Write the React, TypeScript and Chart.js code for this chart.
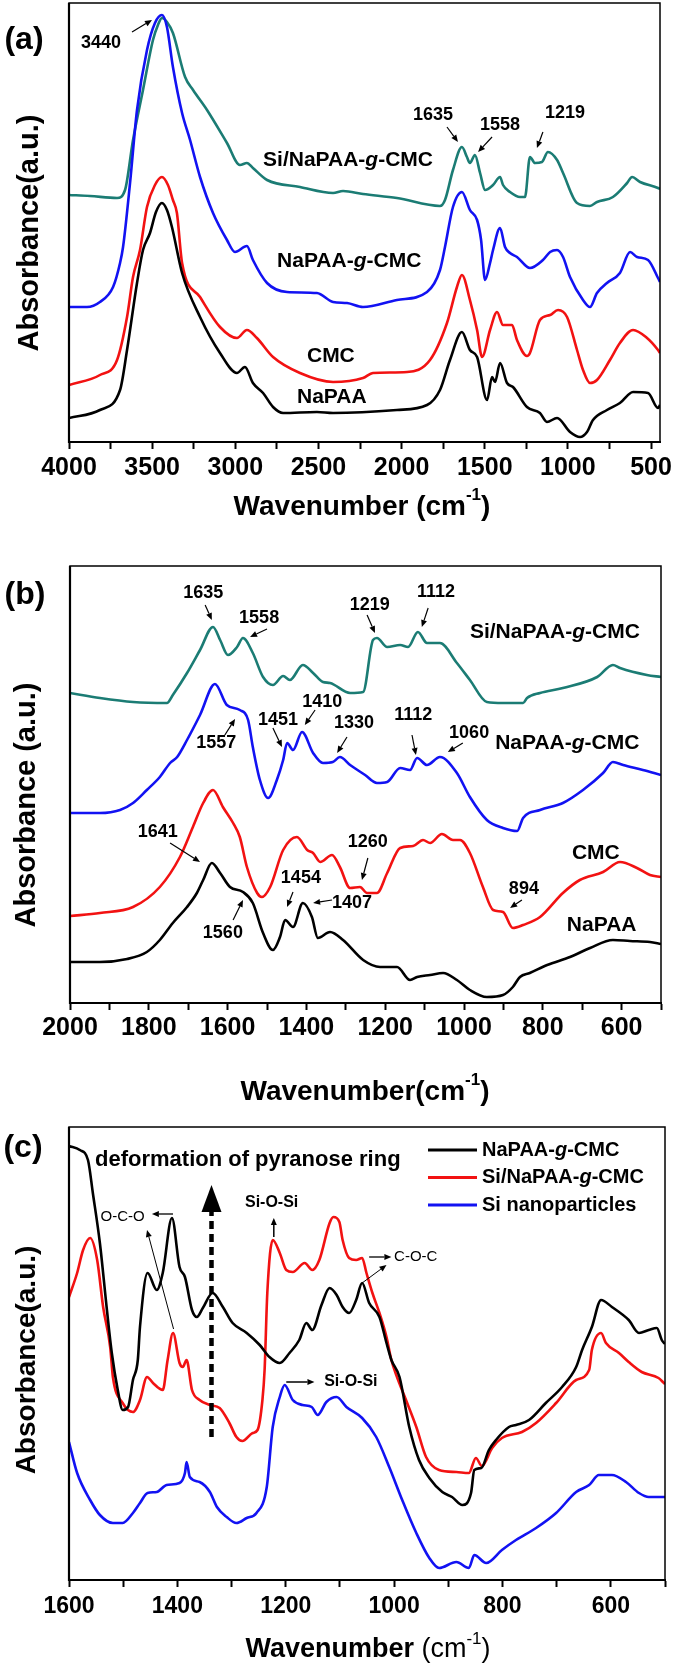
import React, { useEffect, useRef } from "react";
import { Chart, registerables } from "chart.js";

Chart.register(...registerables);

type Pt = [number, number];

// ---------------- DATA: [wavenumber (cm-1), absorbance (a.u., offset)] ----------------
// Panel (a)
const A_NAPAA: Pt[] = [[4000,24],[3814,32],[3693,52],[3651,92],[3591,159],[3555,192],[3513,209],[3477,230],[3441,239],[3411,232],[3381,215],[3320,169],[3212,125],[3092,89],[2990,69],[2942,75],[2894,59],[2833,49],[2773,35],[2713,29],[2509,30],[2412,29],[2028,32],[1847,37],[1769,52],[1709,82],[1637,110],[1589,92],[1546,85],[1486,42],[1456,65],[1438,60],[1408,79],[1366,59],[1330,55],[1246,35],[1168,29],[1126,20],[1065,24],[987,10],[927,5],[885,10],[849,22],[765,32],[687,39],[608,50],[518,49],[458,34],[446,37]];
const A_CMC: Pt[] = [[4000,57],[3814,67],[3711,82],[3651,125],[3615,165],[3573,192],[3531,235],[3483,257],[3441,265],[3405,257],[3375,242],[3351,229],[3320,179],[3212,145],[3092,115],[2990,104],[2930,112],[2870,104],[2773,85],[2611,69],[2412,60],[2232,64],[2172,69],[1967,70],[1829,82],[1727,119],[1667,155],[1637,167],[1589,142],[1546,112],[1516,85],[1468,112],[1426,130],[1390,117],[1336,117],[1306,102],[1246,86],[1228,89],[1168,122],[1107,127],[1059,132],[1005,125],[945,92],[909,72],[867,59],[825,62],[747,82],[687,99],[608,112],[524,104],[458,92],[446,89]];
const A_NAPAA_G_CMC: Pt[] = [[4000,135],[3892,135],[3814,140],[3735,155],[3693,179],[3675,195],[3633,259],[3591,332],[3531,392],[3483,419],[3441,427],[3411,415],[3375,375],[3320,329],[3272,302],[3212,265],[3134,229],[3050,202],[3002,190],[2930,196],[2894,182],[2809,159],[2689,150],[2509,149],[2412,140],[2328,139],[2232,135],[2028,142],[1847,150],[1769,172],[1739,195],[1691,235],[1637,250],[1589,232],[1546,222],[1522,202],[1498,162],[1468,179],[1450,192],[1408,214],[1378,195],[1348,189],[1306,185],[1228,174],[1150,182],[1107,190],[1065,192],[1029,185],[987,165],[909,142],[867,135],[825,149],[765,159],[687,169],[626,190],[584,185],[518,182],[458,164],[446,160]];
const A_SI_NAPAA_G_CMC: Pt[] = [[4000,247],[3874,246],[3711,244],[3663,252],[3615,302],[3555,352],[3495,402],[3465,417],[3441,424],[3411,420],[3375,409],[3302,365],[3254,352],[3170,332],[3050,299],[2972,277],[2930,279],[2894,274],[2809,262],[2611,255],[2412,249],[2352,251],[2232,248],[2028,244],[1769,236],[1739,242],[1691,272],[1637,295],[1607,285],[1589,279],[1559,287],[1528,269],[1498,252],[1450,257],[1408,265],[1390,257],[1348,250],[1288,245],[1258,245],[1228,285],[1198,279],[1156,280],[1120,290],[1065,282],[1029,269],[945,239],[867,236],[825,240],[729,245],[644,259],[614,265],[566,260],[458,254],[446,253]];
const A_TICKS = [500, 750, 1000, 1250, 1500, 1750, 2000, 2250, 2500, 2750, 3000, 3250, 3500, 3750, 4000];
const A_TICK_LABELS = [500, 1000, 1500, 2000, 2500, 3000, 3500, 4000];

// Panel (b)
const B_NAPAA: Pt[] = [[2000,41],[1924,41],[1855,44],[1805,51],[1772,63],[1739,80],[1703,96],[1678,110],[1662,123],[1640,140],[1619,130],[1594,116],[1561,111],[1536,100],[1510,70],[1485,53],[1467,66],[1454,83],[1434,76],[1409,100],[1386,86],[1371,65],[1340,71],[1307,63],[1256,43],[1213,36],[1170,36],[1137,23],[1119,26],[1086,28],[1053,30],[1018,23],[985,13],[942,6],[901,8],[876,16],[858,26],[833,30],[789,38],[731,46],[680,55],[622,63],[579,62],[528,61],[500,59]];
const B_CMC: Pt[] = [[2000,87],[1924,90],[1840,96],[1772,116],[1721,146],[1688,176],[1662,200],[1637,213],[1612,196],[1586,180],[1569,166],[1551,136],[1525,110],[1513,106],[1492,116],[1459,153],[1424,166],[1398,153],[1383,150],[1365,141],[1335,148],[1315,136],[1289,115],[1264,116],[1246,110],[1221,110],[1195,130],[1162,155],[1129,157],[1104,163],[1086,160],[1056,169],[1028,163],[1010,163],[985,150],[952,116],[926,93],[901,91],[876,75],[850,78],[807,86],[749,110],[706,123],[647,131],[604,141],[561,135],[528,128],[500,126]];
const B_NAPAA_G_CMC: Pt[] = [[2000,190],[1924,190],[1873,193],[1840,200],[1805,213],[1772,226],[1746,240],[1728,246],[1703,263],[1670,288],[1632,319],[1602,298],[1569,293],[1548,283],[1536,256],[1518,223],[1497,205],[1475,223],[1459,243],[1449,260],[1434,253],[1411,271],[1383,250],[1358,240],[1333,241],[1315,246],[1289,238],[1251,228],[1221,220],[1195,221],[1162,235],[1137,233],[1119,245],[1094,238],[1061,246],[1018,230],[985,206],[942,183],[901,175],[865,172],[850,185],[807,193],[749,200],[698,213],[647,230],[622,241],[596,238],[546,233],[500,228]];
const B_SI_NAPAA_G_CMC: Pt[] = [[2000,310],[1924,305],[1840,301],[1754,300],[1739,308],[1703,330],[1670,353],[1637,376],[1619,363],[1599,348],[1576,356],[1561,365],[1536,350],[1510,326],[1485,318],[1459,327],[1442,323],[1409,338],[1383,330],[1358,321],[1340,320],[1289,310],[1256,311],[1231,363],[1221,365],[1195,356],[1162,358],[1142,356],[1117,371],[1094,360],[1061,360],[1018,340],[985,323],[942,301],[901,300],[850,300],[840,305],[807,310],[749,315],[662,326],[622,338],[604,335],[536,328],[500,326]];
const B_TICKS = [500, 600, 700, 800, 900, 1000, 1100, 1200, 1300, 1400, 1500, 1600, 1700, 1800, 1900, 2000];
const B_TICK_LABELS = [600, 800, 1000, 1200, 1400, 1600, 1800, 2000];

// Panel (c)
const C_NAPAA_G_CMC: Pt[] = [[1600,434],[1580,430],[1565,420],[1556,387],[1543,337],[1530,270],[1521,227],[1510,190],[1501,170],[1491,173],[1482,200],[1473,220],[1469,253],[1455,307],[1438,290],[1427,307],[1410,362],[1396,313],[1386,303],[1373,270],[1364,263],[1353,272],[1335,287],[1316,273],[1298,257],[1272,247],[1248,235],[1230,223],[1211,217],[1193,227],[1175,240],[1162,257],[1151,250],[1134,275],[1119,292],[1106,285],[1095,273],[1083,267],[1070,280],[1059,297],[1046,277],[1027,263],[1014,237],[1005,220],[990,203],[972,153],[954,120],[935,102],[911,88],[893,83],[874,75],[858,87],[852,110],[839,112],[825,130],[812,140],[788,153],[775,155],[751,160],[720,177],[690,193],[664,213],[653,230],[635,253],[618,280],[598,273],[567,260],[548,247],[530,250],[515,252],[506,240],[500,236]];
const C_SI_NAPAA_G_CMC: Pt[] = [[1600,283],[1585,307],[1574,330],[1561,342],[1548,320],[1537,273],[1524,233],[1519,203],[1501,177],[1482,168],[1469,180],[1456,203],[1445,197],[1427,190],[1418,220],[1408,247],[1396,217],[1390,213],[1383,220],[1373,190],[1359,180],[1340,175],[1322,172],[1304,157],[1291,143],[1280,139],[1261,147],[1252,150],[1243,180],[1239,210],[1234,287],[1224,340],[1211,327],[1199,310],[1187,308],[1165,317],[1151,310],[1138,320],[1119,357],[1112,363],[1101,358],[1095,340],[1083,322],[1070,320],[1059,322],[1051,307],[1040,287],[1027,267],[1014,243],[1005,220],[996,205],[978,180],[959,153],[941,123],[917,110],[885,108],[862,107],[849,122],[838,114],[819,132],[801,142],[764,148],[738,157],[701,177],[664,200],[640,210],[635,230],[618,247],[609,237],[585,227],[567,218],[543,208],[512,202],[502,197],[500,196]];
const C_SI_NP: Pt[] = [[1600,138],[1585,107],[1561,80],[1543,65],[1519,57],[1501,57],[1482,67],[1469,77],[1455,87],[1438,88],[1420,95],[1396,97],[1386,107],[1383,118],[1377,103],[1359,98],[1340,88],[1327,73],[1309,63],[1291,57],[1272,62],[1254,67],[1235,93],[1224,153],[1211,183],[1202,195],[1187,180],[1169,175],[1152,173],[1141,165],[1125,178],[1106,183],[1088,173],[1059,162],[1033,143],[1009,113],[985,80],[959,47],[935,22],[917,12],[885,18],[862,12],[852,25],[830,17],[801,30],[775,40],[738,52],[701,67],[664,88],[640,95],[622,105],[598,105],[572,98],[548,87],[530,83],[502,83],[500,83]];
const C_TICKS = [500, 600, 700, 800, 900, 1000, 1100, 1200, 1300, 1400, 1500, 1600];
const C_TICK_LABELS = [600, 800, 1000, 1200, 1400, 1600];

// ---------------- STYLE / LAYOUT ----------------
const W = 675;
const FONT = '"Liberation Sans", Arial, Helvetica, sans-serif';
const BLACK = "#000000";
const RED = "#f21212";
const BLUE = "#1212f2";
const TEAL = "#1b7c74";

type Note = { text?: string; at?: Pt; align?: "left" | "center"; size?: number; weight?: string; from?: Pt; to?: Pt; lw?: number; dash?: number[]; head?: number; hw?: number };

const NUM = 18;
const SER = 21;

const A_NOTES: Note[] = [
  { text: "3440", at: [3808, 399], size: NUM },
  { from: [3621, 410], to: [3501, 422] },
  { text: "1635", at: [1811, 327], size: NUM },
  { from: [1727, 315], to: [1661, 300] },
  { text: "1558", at: [1408, 317], size: NUM },
  { from: [1456, 305], to: [1540, 290] },
  { text: "1219", at: [1017, 329], size: NUM },
  { from: [1150, 310], to: [1186, 294] },
  { text: "Si/NaPAA-*g*-CMC", at: [2833, 282], align: "left", size: SER },
  { text: "NaPAA-*g*-CMC", at: [2749, 181], align: "left", size: SER },
  { text: "CMC", at: [2569, 86], align: "left", size: SER },
  { text: "NaPAA", at: [2629, 45], align: "left", size: SER },
];

const B_NOTES: Note[] = [
  { text: "1635", at: [1662, 410], size: NUM },
  { from: [1657, 398], to: [1640, 383] },
  { text: "1558", at: [1520, 385], size: NUM },
  { from: [1500, 374], to: [1543, 366] },
  { text: "1219", at: [1239, 398], size: NUM },
  { from: [1246, 388], to: [1226, 370] },
  { text: "1112", at: [1071, 411], size: NUM },
  { from: [1091, 395], to: [1107, 376] },
  { text: "Si/NaPAA-*g*-CMC", at: [985, 371], align: "left", size: SER },
  { text: "1557", at: [1629, 260], size: NUM },
  { from: [1607, 268], to: [1581, 284] },
  { text: "1451", at: [1472, 283], size: NUM },
  { from: [1485, 275], to: [1462, 256] },
  { text: "1410", at: [1360, 301], size: NUM },
  { from: [1378, 293], to: [1404, 278] },
  { text: "1330", at: [1279, 280], size: NUM },
  { from: [1297, 266], to: [1322, 250] },
  { text: "1112", at: [1129, 288], size: NUM },
  { from: [1132, 268], to: [1122, 248] },
  { text: "1060", at: [987, 270], size: NUM },
  { from: [1003, 260], to: [1041, 251] },
  { text: "NaPAA-*g*-CMC", at: [921, 260], align: "left", size: SER },
  { text: "1641", at: [1777, 171], size: NUM },
  { from: [1746, 160], to: [1670, 141] },
  { text: "1560", at: [1612, 70], size: NUM },
  { from: [1586, 83], to: [1561, 103] },
  { text: "1454", at: [1414, 125], size: NUM },
  { from: [1434, 111], to: [1449, 96] },
  { text: "1407", at: [1284, 100], size: NUM },
  { from: [1335, 103], to: [1383, 100] },
  { text: "1260", at: [1244, 161], size: NUM },
  { from: [1244, 145], to: [1259, 123] },
  { text: "894", at: [848, 114], size: NUM },
  { from: [853, 103], to: [883, 95] },
  { text: "CMC", at: [726, 150], align: "left", size: SER },
  { text: "NaPAA", at: [739, 78], align: "left", size: SER },
];

const C_NOTES: Note[] = [
  { text: "deformation of pyranose ring", at: [1552, 420], align: "left", size: 22 },
  { from: [1337, 143], to: [1337, 395], lw: 4.5, dash: [8, 5], head: 27, hw: 10 },
  { text: "O-C-O", at: [1501, 363], size: 15, weight: "normal" },
  { from: [1408, 366], to: [1447, 366], lw: 1.3 },
  { from: [1407, 251], to: [1456, 350], lw: 1 },
  { text: "Si-O-Si", at: [1226, 377], size: 16 },
  { from: [1222, 343], to: [1222, 362], lw: 1.5 },
  { text: "C-O-C", at: [1000, 323], align: "left", size: 15, weight: "normal" },
  { from: [1046, 323], to: [1005, 323], lw: 1.3 },
  { from: [1059, 297], to: [1014, 315], lw: 1 },
  { text: "Si-O-Si", at: [1129, 198], align: "left", size: 16 },
  { from: [1199, 198], to: [1147, 198], lw: 1.5 },
];

const PANELS = [
  {
    key: "a", top: 0, height: 535, area: { l: 69, t: 3, r: 660, b: 442 },
    xMin: 446, xMax: 4000, ticks: A_TICKS, tickLabels: A_TICK_LABELS, tickSize: 25, tickPad: 4,
    series: [
      { label: "NaPAA", data: A_NAPAA, color: BLACK },
      { label: "CMC", data: A_CMC, color: RED },
      { label: "NaPAA-g-CMC", data: A_NAPAA_G_CMC, color: BLUE },
      { label: "Si/NaPAA-g-CMC", data: A_SI_NAPAA_G_CMC, color: TEAL },
    ],
    notes: A_NOTES,
    xTitle: "Wavenumber (cm^-1^)", xTitlePos: [362, 507], xTitleSize: 28,
    yTitle: "Absorbance(a.u.)", yTitlePos: [30, 233], yTitleSize: 29,
    tag: "(a)", tagPos: [24, 40], legend: null,
  },
  {
    key: "b", top: 535, height: 575, area: { l: 70, t: 31, r: 661, b: 468 },
    xMin: 500, xMax: 2000, ticks: B_TICKS, tickLabels: B_TICK_LABELS, tickSize: 25, tickPad: 3,
    series: [
      { label: "NaPAA", data: B_NAPAA, color: BLACK },
      { label: "CMC", data: B_CMC, color: RED },
      { label: "NaPAA-g-CMC", data: B_NAPAA_G_CMC, color: BLUE },
      { label: "Si/NaPAA-g-CMC", data: B_SI_NAPAA_G_CMC, color: TEAL },
    ],
    notes: B_NOTES,
    xTitle: "Wavenumber(cm^-1^)", xTitlePos: [365, 557], xTitleSize: 28,
    yTitle: "Absorbance (a.u.)", yTitlePos: [27, 270], yTitleSize: 29,
    tag: "(b)", tagPos: [25, 60], legend: null,
  },
  {
    key: "c", top: 1110, height: 556, area: { l: 69, t: 17, r: 665, b: 470 },
    xMin: 500, xMax: 1600, ticks: C_TICKS, tickLabels: C_TICK_LABELS, tickSize: 23, tickPad: 6,
    series: [
      { label: "NaPAA-g-CMC", data: C_NAPAA_G_CMC, color: BLACK },
      { label: "Si/NaPAA-g-CMC", data: C_SI_NAPAA_G_CMC, color: RED },
      { label: "Si nanoparticles", data: C_SI_NP, color: BLUE },
    ],
    notes: C_NOTES,
    xTitle: "Wavenumber ~(cm^-1^)~", xTitlePos: [368, 540], xTitleSize: 27,
    yTitle: "Absorbance(a.u.)", yTitlePos: [27, 250], yTitleSize: 28,
    tag: "(c)", tagPos: [23, 38],
    legend: { dx: 359, dy: 23, gap: 27.5, len: 49, size: 20 },
  },
];

// ---------------- DRAW HELPERS ----------------
function drawRich(ctx: any, text: string, x: number, y: number, size: number, weight: string, align: string) {
  const segs: any[] = [];
  let cur = "", it = false, sup = false, reg = false;
  for (const ch of text) {
    if (ch === "*" || ch === "^" || ch === "~") {
      if (cur) segs.push({ t: cur, it, sup, reg });
      cur = "";
      if (ch === "*") it = !it; else if (ch === "^") sup = !sup; else reg = !reg;
    } else cur += ch;
  }
  if (cur) segs.push({ t: cur, it, sup, reg });
  const fontOf = (s: any) => `${s.it ? "italic " : ""}${s.reg ? "normal" : weight} ${s.sup ? Math.round(size * 0.62) : size}px ${FONT}`;
  let total = 0;
  for (const s of segs) { ctx.font = fontOf(s); s.w = ctx.measureText(s.t).width; total += s.w; }
  let cx = align === "center" ? x - total / 2 : align === "right" ? x - total : x;
  ctx.textBaseline = "middle";
  ctx.textAlign = "left";
  for (const s of segs) {
    ctx.font = fontOf(s);
    ctx.fillText(s.t, cx, s.sup ? y - size * 0.4 : y);
    cx += s.w;
  }
}

function drawArrow(ctx: any, x1: number, y1: number, x2: number, y2: number, lw: number, head: number, hw: number, dash: number[] | undefined) {
  const ang = Math.atan2(y2 - y1, x2 - x1);
  const bx = x2 - head * Math.cos(ang);
  const by = y2 - head * Math.sin(ang);
  ctx.lineWidth = lw;
  ctx.setLineDash(dash || []);
  ctx.beginPath(); ctx.moveTo(x1, y1); ctx.lineTo(bx, by); ctx.stroke();
  ctx.setLineDash([]);
  ctx.beginPath();
  ctx.moveTo(x2, y2);
  ctx.lineTo(bx + hw * Math.sin(ang), by - hw * Math.cos(ang));
  ctx.lineTo(bx - hw * Math.sin(ang), by + hw * Math.cos(ang));
  ctx.closePath(); ctx.fill();
}

function makeDecor(p: any) {
  return {
    id: "decor_" + p.key,
    beforeDraw(chart: any) {
      const { ctx, width, height } = chart;
      ctx.save(); ctx.fillStyle = "#fff"; ctx.fillRect(0, 0, width, height); ctx.restore();
    },
    afterDatasetsDraw(chart: any) {
      const { ctx, chartArea: ca, scales } = chart;
      const X = (w: number) => scales.x.getPixelForValue(w);
      const Y = (v: number) => scales.y.getPixelForValue(v);
      ctx.save();
      ctx.strokeStyle = "#000"; ctx.fillStyle = "#000";
      ctx.lineWidth = 1.5;
      ctx.strokeRect(ca.left, ca.top, ca.right - ca.left, ca.bottom - ca.top);
      ctx.lineWidth = 2.2;
      ctx.beginPath(); ctx.moveTo(ca.left, ca.top); ctx.lineTo(ca.left, ca.bottom + 1); ctx.stroke();
      for (const n of p.notes as Note[]) {
        if (n.text && n.at) {
          drawRich(ctx, n.text, X(n.at[0]), Y(n.at[1]), n.size || NUM, n.weight || "bold", n.align || "center");
        } else if (n.from && n.to) {
          drawArrow(ctx, X(n.from[0]), Y(n.from[1]), X(n.to[0]), Y(n.to[1]), n.lw || 1.2, n.head || 7, n.hw || 3, n.dash);
        }
      }
      if (p.legend) {
        const L = p.legend;
        chart.data.datasets.forEach((ds: any, i: number) => {
          const y = ca.top + L.dy + i * L.gap;
          ctx.strokeStyle = ds.borderColor; ctx.lineWidth = 3;
          ctx.beginPath(); ctx.moveTo(ca.left + L.dx, y); ctx.lineTo(ca.left + L.dx + L.len, y); ctx.stroke();
          ctx.fillStyle = "#000";
          drawRich(ctx, String(ds.label).replace("-g-", "-*g*-"), ca.left + L.dx + L.len + 5, y, L.size, "bold", "left");
        });
      }
      ctx.fillStyle = "#000";
      drawRich(ctx, p.xTitle, p.xTitlePos[0], p.xTitlePos[1], p.xTitleSize, "bold", "center");
      drawRich(ctx, p.tag, p.tagPos[0], p.tagPos[1], 32, "bold", "center");
      ctx.save();
      ctx.translate(p.yTitlePos[0], p.yTitlePos[1]);
      ctx.rotate(-Math.PI / 2);
      drawRich(ctx, p.yTitle, 0, 0, p.yTitleSize, "bold", "center");
      ctx.restore();
      ctx.restore();
    },
  };
}

function Panel({ p }: { p: any }) {
  const ref = useRef<HTMLCanvasElement | null>(null);
  useEffect(() => {
    const canvas = ref.current;
    if (!canvas) return;
    const a = p.area;
    const chart = new Chart(canvas, {
      type: "line",
      data: {
        datasets: p.series.map((s: any) => ({
          label: s.label,
          data: s.data.map(([x, y]: Pt) => ({ x, y })),
          borderColor: s.color,
          backgroundColor: s.color,
          borderWidth: 2.6,
          pointRadius: 0,
          fill: false,
          cubicInterpolationMode: "monotone",
        })),
      },
      options: {
        responsive: false,
        animation: false,
        devicePixelRatio: 1,
        events: [],
        layout: { padding: { left: a.l, top: a.t, right: W - a.r, bottom: 0 } },
        plugins: { legend: { display: false }, tooltip: { enabled: false }, title: { display: false } },
        scales: {
          x: {
            type: "linear",
            reverse: true,
            min: p.xMin,
            max: p.xMax,
            bounds: "data",
            grid: { display: true, drawOnChartArea: false, drawTicks: true, tickLength: 7, tickWidth: 2, tickColor: "#000", color: "#000" },
            border: { display: true, color: "#000", width: 2 },
            afterBuildTicks: (s: any) => { s.ticks = p.ticks.map((v: number) => ({ value: v })); },
            ticks: {
              autoSkip: false,
              maxRotation: 0,
              minRotation: 0,
              padding: p.tickPad,
              color: "#000",
              font: { family: FONT, size: p.tickSize, weight: "bold" },
              callback: (v: any) => {
                const n = Math.round(Number(v));
                return p.tickLabels.includes(n) ? String(n) : "";
              },
            },
            afterFit: (s: any) => { s.height = p.height - a.b; },
          },
          y: { type: "linear", display: false, min: 0, max: a.b - a.t },
        },
      } as any,
      plugins: [makeDecor(p)],
    });
    return () => chart.destroy();
  }, [p]);
  return (
    <canvas
      ref={ref}
      width={W}
      height={p.height}
      style={{ position: "absolute", left: 0, top: p.top, width: W, height: p.height, display: "block" }}
    />
  );
}

export default function App() {
  return (
    <div style={{ position: "absolute", left: 0, top: 0, width: W, height: 1666, background: "#fff", overflow: "hidden" }}>
      {PANELS.map((p) => (
        <Panel key={p.key} p={p} />
      ))}
    </div>
  );
}
